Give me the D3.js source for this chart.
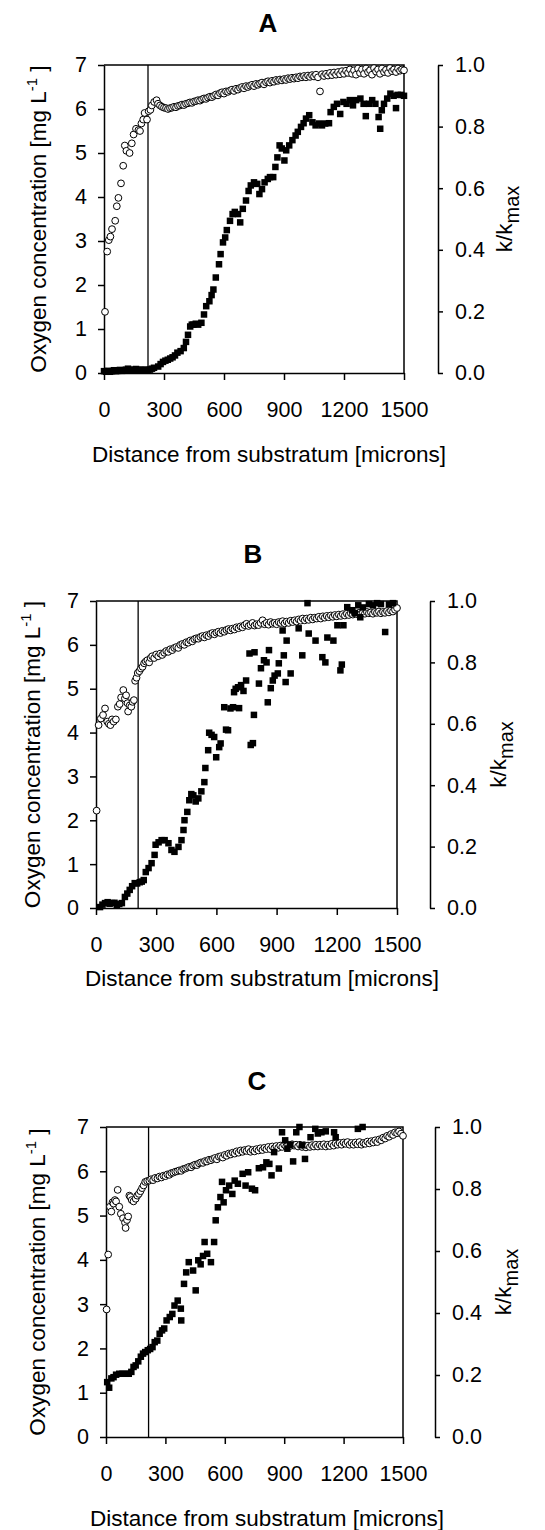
<!DOCTYPE html>
<html>
<head>
<meta charset="utf-8">
<script src="https://cdn.jsdelivr.net/npm/d3@7"></script>
<style>
  body { margin: 0; background: #fff; }
  text { font-family: "Liberation Sans", Arial, sans-serif; fill: #000; }
</style>
</head>
<body>
<div id="chart"></div>
<script>
/****************************************/
/*****  Data   *****/
/****************************************/
const panelNames = ["A", "B", "C"];
const xTicks = [0, 300, 600, 900, 1200, 1500];
const oxygenTicks = [0, 1, 2, 3, 4, 5, 6, 7];
const kTicks = [0, 0.2, 0.4, 0.6, 0.8, 1.0];
const xTitle = "Distance from substratum [microns]";

// vertical line marking the substratum boundary (microns)
const boundaries = [220, 210, 215];

// open circles: oxygen concentration [mg/L] vs distance [microns]
const oxygenA = [
  [5,1.39],[16,2.76],[24,3.02],[32,3.1],[40,3.27],[56,3.46],[64,3.79],[72,3.98],[85,4.31],[96,4.71],
  [104,5.17],[112,5.05],[128,5.0],[139,5.22],[148,5.42],[160,5.55],[172,5.52],[180,5.5],[187,5.67],[196,5.76],
  [203,5.91],[215,5.76],[223,5.95],[232,5.98],[239,6.08],[251,6.16],[263,6.2],
  [270,6.12],[280,6.08],[290,6.05],[300,6.03],[310,6.02],[320,6.0],[330,6.02],[340,6.03],[350,6.05],[360,6.04],
  [370,6.07],[380,6.08],[390,6.1],[400,6.09],[410,6.12],[420,6.13],[430,6.15],[440,6.14],[450,6.17],[460,6.18],
  [470,6.2],[480,6.19],[490,6.22],[500,6.24],[510,6.23],[520,6.26],[530,6.28],[540,6.27],[550,6.3],[560,6.33],
  [570,6.31],[580,6.36],[590,6.38],[600,6.35],[610,6.4],[620,6.39],[630,6.42],[640,6.44],[650,6.41],[660,6.46],
  [670,6.44],[680,6.48],[690,6.5],[700,6.47],[710,6.52],[720,6.5],[730,6.53],[740,6.55],[750,6.52],[760,6.57],
  [770,6.55],[780,6.58],[790,6.6],[800,6.56],[810,6.61],[820,6.63],[830,6.6],[840,6.64],[850,6.62],[860,6.66],
  [870,6.64],[880,6.67],[890,6.65],[900,6.68],[910,6.66],[920,6.7],[930,6.68],[940,6.71],[950,6.69],[960,6.72],
  [970,6.7],[980,6.74],[990,6.72],[1000,6.75],[1010,6.72],[1020,6.76],[1030,6.73],[1040,6.77],[1050,6.74],[1060,6.78],
  [1070,6.72],[1080,6.4],[1090,6.79],[1100,6.75],[1110,6.8],[1120,6.76],[1130,6.82],[1140,6.77],[1150,6.83],[1160,6.78],
  [1170,6.84],[1180,6.79],[1190,6.86],[1200,6.8],[1210,6.87],[1220,6.82],[1230,6.9],[1240,6.8],[1250,6.88],[1260,6.78],
  [1270,6.92],[1280,6.82],[1290,6.9],[1300,6.8],[1310,6.92],[1320,6.84],[1330,6.88],[1340,6.78],[1350,6.93],[1360,6.85],
  [1370,6.9],[1380,6.8],[1390,6.92],[1400,6.84],[1410,6.89],[1420,6.82],[1430,6.93],[1440,6.86],[1450,6.9],[1460,6.84],
  [1470,6.92],[1480,6.87],[1490,6.9],[1500,6.88]
];

const oxygenB = [
  [3,2.22],[13,4.17],[24,4.32],[35,4.4],[45,4.55],[56,4.25],[64,4.2],[72,4.17],[80,4.3],[88,4.25],
  [99,4.3],[109,4.59],[118,4.65],[125,4.8],[136,4.97],[144,4.78],[150,4.85],[157,4.67],[160,4.48],[168,4.62],
  [176,4.59],[182,4.7],[189,4.74],[195,5.18],[202,5.25],[208,5.36],[216,5.4],[224,5.46],[232,5.5],[240,5.58],
  [248,5.62],[256,5.65],[265,5.6],[272,5.7],[280,5.74],[290,5.7],[300,5.78],[310,5.74],[320,5.8],[330,5.77],
  [340,5.82],[350,5.86],[360,5.84],[370,5.9],[380,5.88],[390,5.93],[400,5.95],[410,5.93],[420,6.0],[430,6.02],
  [440,6.0],[450,6.06],[460,6.05],[470,6.1],[480,6.08],[490,6.13],[500,6.15],[510,6.14],[520,6.18],[530,6.2],
  [540,6.17],[550,6.22],[560,6.2],[570,6.25],[580,6.27],[590,6.24],[600,6.28],[610,6.3],[620,6.27],[630,6.32],
  [640,6.3],[650,6.34],[660,6.36],[670,6.33],[680,6.37],[690,6.35],[700,6.4],[710,6.38],[720,6.42],[730,6.4],
  [740,6.45],[750,6.48],[760,6.43],[770,6.46],[780,6.5],[790,6.44],[800,6.47],[810,6.45],[820,6.5],[830,6.56],
  [840,6.47],[850,6.5],[860,6.46],[870,6.52],[880,6.48],[890,6.5],[900,6.47],[910,6.52],[920,6.5],[930,6.54],
  [940,6.49],[950,6.53],[960,6.5],[970,6.55],[980,6.52],[990,6.56],[1000,6.53],[1010,6.58],[1020,6.55],[1030,6.6],
  [1040,6.56],[1050,6.6],[1060,6.57],[1070,6.62],[1080,6.58],[1090,6.62],[1100,6.6],[1110,6.64],[1120,6.6],[1130,6.65],
  [1140,6.62],[1150,6.66],[1160,6.63],[1170,6.67],[1180,6.64],[1190,6.68],[1200,6.65],[1210,6.69],[1220,6.66],[1230,6.7],
  [1240,6.67],[1250,6.71],[1260,6.68],[1270,6.72],[1280,6.69],[1290,6.72],[1300,6.7],[1310,6.73],[1320,6.7],[1330,6.74],
  [1340,6.71],[1350,6.75],[1360,6.72],[1370,6.74],[1380,6.71],[1390,6.75],[1400,6.73],[1410,6.76],[1420,6.72],[1430,6.75],
  [1440,6.73],[1450,6.77],[1460,6.74],[1470,6.78],[1480,6.76],[1490,6.8],[1500,6.84]
];

const oxygenC = [
  [3,2.88],[11,4.12],[20,5.2],[27,5.09],[33,5.3],[38,5.27],[45,5.35],[51,5.32],[59,5.58],[67,5.2],
  [75,5.04],[86,4.94],[96,4.84],[99,4.72],[106,4.9],[112,4.98],[118,5.45],[123,5.42],[130,5.35],[139,5.32],
  [150,5.38],[158,5.45],[166,5.49],[174,5.55],[182,5.62],[190,5.68],[198,5.76],[208,5.78],[219,5.79],[228,5.82],
  [238,5.8],[248,5.85],[260,5.84],[270,5.88],[280,5.86],[290,5.9],[300,5.89],[310,5.93],[320,5.92],[330,5.96],
  [340,5.97],[350,5.99],[360,6.0],[370,6.02],[380,6.01],[390,6.05],[400,6.06],[410,6.08],[420,6.1],[430,6.09],
  [440,6.13],[450,6.15],[460,6.14],[470,6.18],[480,6.2],[490,6.19],[500,6.23],[510,6.22],[520,6.26],[530,6.25],
  [540,6.28],[550,6.3],[560,6.27],[570,6.33],[580,6.34],[590,6.31],[600,6.37],[610,6.35],[620,6.4],[630,6.38],
  [640,6.42],[650,6.4],[660,6.45],[670,6.42],[680,6.47],[690,6.44],[700,6.48],[710,6.46],[720,6.5],[730,6.44],
  [740,6.48],[750,6.45],[760,6.5],[770,6.47],[780,6.52],[790,6.48],[800,6.53],[810,6.5],[820,6.55],[830,6.5],
  [840,6.56],[850,6.52],[860,6.57],[870,6.53],[880,6.58],[890,6.55],[900,6.6],[910,6.56],[920,6.6],[930,6.57],
  [940,6.61],[950,6.58],[960,6.6],[970,6.56],[980,6.6],[990,6.55],[1000,6.59],[1010,6.54],[1020,6.58],[1030,6.55],
  [1040,6.59],[1050,6.56],[1060,6.6],[1070,6.56],[1080,6.6],[1090,6.57],[1100,6.61],[1110,6.56],[1120,6.6],[1130,6.57],
  [1140,6.62],[1150,6.58],[1160,6.63],[1170,6.6],[1180,6.64],[1190,6.6],[1200,6.65],[1210,6.62],[1220,6.66],[1230,6.6],
  [1240,6.64],[1250,6.6],[1260,6.65],[1270,6.61],[1280,6.66],[1290,6.6],[1300,6.64],[1310,6.62],[1320,6.67],[1330,6.63],
  [1340,6.68],[1350,6.65],[1360,6.7],[1370,6.66],[1380,6.72],[1390,6.7],[1400,6.76],[1410,6.74],[1420,6.8],[1430,6.78],
  [1440,6.84],[1450,6.82],[1460,6.88],[1470,6.86],[1480,6.9],[1490,6.85],[1500,6.8]
];

// filled squares: k/kmax vs distance [microns]
const kA = [
  [0,.006],[10,.004],[20,.007],[30,.004],[40,.006],[50,.009],[60,.006],[70,.007],[80,.010],[90,.007],
  [100,.009],[110,.011],[120,.014],[130,.010],[140,.009],[150,.011],[160,.013],[170,.010],[180,.011],[190,.009],
  [200,.010],[210,.011],[220,.009],[230,.011],[240,.014],[250,.017],[271,.021],[283,.029],[295,.036],[307,.040],
  [319,.043],[331,.047],[343,.051],[355,.057],[367,.066],[383,.071],[399,.081],[410,.101],[420,.124],[431,.151],
  [439,.157],[447,.157],[459,.160],[471,.157],[487,.163],[500,.190],[511,.217],[527,.233],[538,.253],[547,.271],
  [559,.310],[575,.353],[583,.386],[595,.424],[606,.440],[614,.464],[630,.494],[643,.516],[654,.523],[670,.516],
  [681,.489],[694,.533],[710,.560],[723,.591],[734,.609],[750,.619],[766,.614],[777,.581],[790,.597],[803,.619],
  [819,.630],[830,.636],[846,.636],[857,.669],[867,.700],[878,.739],[889,.729],[902,.690],[911,.723],[926,.739],
  [942,.756],[958,.771],[969,.783],[985,.799],[998,.811],[1010,.826],[1026,.837],[1042,.814],[1058,.804],[1074,.810],
  [1090,.804],[1106,.810],[1125,.811],[1133,.847],[1149,.864],[1165,.874],[1181,.841],[1197,.880],[1213,.874],[1229,.886],
  [1245,.869],[1261,.886],[1282,.891],[1298,.874],[1309,.834],[1325,.874],[1341,.886],[1357,.874],[1373,.831],[1381,.793],
  [1389,.853],[1400,.874],[1416,.891],[1432,.907],[1448,.900],[1460,.860],[1468,.903],[1485,.903],[1500,.900]
];

const kB = [
  [20,.003],[32,.011],[45,.016],[58,.019],[68,.014],[79,.016],[92,.017],[104,.010],[116,.013],[129,.016],
  [144,.036],[156,.047],[168,.059],[180,.071],[193,.081],[205,.080],[218,.084],[228,.086],[238,.091],[248,.117],
  [262,.130],[277,.146],[292,.173],[297,.206],[312,.214],[327,.221],[342,.221],[361,.211],[376,.189],[391,.183],
  [411,.199],[426,.221],[436,.254],[441,.286],[455,.313],[465,.351],[475,.371],[485,.367],[497,.347],[510,.357],
  [525,.380],[540,.410],[545,.456],[559,.514],[564,.571],[576,.564],[589,.557],[599,.491],[614,.524],[621,.536],
  [639,.654],[648,.581],[658,.579],[670,.650],[683,.654],[688,.703],[696,.714],[708,.719],[713,.651],[723,.726],
  [735,.707],[748,.741],[765,.829],[771,.531],[782,.537],[787,.629],[790,.833],[812,.731],[822,.781],[837,.807],
  [850,.800],[856,.670],[862,.840],[871,.716],[881,.741],[890,.757],[906,.764],[911,.797],[930,.904],[936,.823],
  [945,.736],[950,.871],[970,.764],[1010,.911],[1028,.823],[1054,.993],[1060,.894],[1094,.871],[1128,.817],[1143,.800],
  [1153,.881],[1183,.871],[1203,.921],[1218,.774],[1225,.793],[1233,.921],[1252,.980],[1277,.970],[1290,.960],[1307,.986],
  [1317,.947],[1330,.979],[1360,.990],[1380,.986],[1401,.993],[1420,.990],[1441,.899],[1460,.989],[1480,.993]
];

const kC = [
  [6,.177],[16,.159],[27,.189],[38,.193],[51,.201],[67,.204],[83,.204],[99,.204],[115,.204],[128,.210],
  [139,.226],[150,.231],[163,.244],[176,.259],[187,.269],[198,.274],[211,.280],[223,.284],[235,.290],[246,.306],
  [259,.311],[271,.333],[283,.344],[294,.350],[306,.376],[322,.387],[335,.397],[346,.424],[362,.440],[378,.414],
  [380,.376],[394,.494],[405,.531],[418,.564],[440,.537],[453,.473],[466,.570],[478,.557],[490,.584],[498,.629],
  [511,.591],[530,.564],[546,.629],[554,.699],[565,.741],[578,.774],[586,.823],[594,.757],[606,.796],[622,.811],
  [638,.784],[650,.827],[666,.817],[690,.849],[705,.811],[718,.854],[737,.801],[753,.796],[772,.867],[793,.870],
  [810,.886],[825,.881],[836,.844],[849,.919],[873,.866],[889,.983],[905,.957],[916,.930],[930,.943],[945,.889],
  [961,.983],[977,1.0],[990,.941],[1005,.897],[1033,.967],[1057,.994],[1070,.979],[1088,.983],[1110,.986],[1152,.983],
  [1160,.967],[1272,.994],[1296,1.0]
];

const oxygenSeries = [oxygenA, oxygenB, oxygenC];
const kSeries = [kA, kB, kC];

/****************************************/
/*****  Layout   *****/
/****************************************/
const width = 545;
const height = 1530;
const tickFont = 21.5;
const titleFont = 22.5;

// pixel frame of each panel
const layout = [
  { left: 104, right: 404, top: 65, bottom: 373, rightAxis: 438, titleX: 268, titleY: 32, xTitleX: 269, xTitleY: 462, yLabelX: 46, kLabelX: 512 },
  { left: 96, right: 397, top: 601, bottom: 908, rightAxis: 430, titleX: 253, titleY: 563, xTitleX: 262, xTitleY: 986, yLabelX: 40, kLabelX: 506 },
  { left: 106, right: 403, top: 1127, bottom: 1437, rightAxis: 435, titleX: 257, titleY: 1090, xTitleX: 267, xTitleY: 1526, yLabelX: 45, kLabelX: 511 }
];

const svg = d3.select('#chart')
  .append('svg')
    .attr('width', width)
    .attr('height', height);

panelNames.forEach((name, i) => {
  const p = layout[i];
  const g = svg.append('g').attr('class', 'panel panel-' + name);

  const x = d3.scaleLinear().domain([0, 1500]).range([p.left, p.right]);
  const yOxy = d3.scaleLinear().domain([0, 7]).range([p.bottom, p.top]);
  const yK = d3.scaleLinear().domain([0, 1]).range([p.bottom, p.top]);

  // panel letter
  g.append('text')
    .attr('x', p.titleX)
    .attr('y', p.titleY)
    .attr('text-anchor', 'middle')
    .attr('font-size', 26)
    .attr('font-weight', 'bold')
    .text(name);

  // top and right border of the plot area
  g.append('path')
    .attr('d', `M${x(0)},${yOxy(7)}H${x(1500)}V${yOxy(0)}`)
    .attr('fill', 'none')
    .attr('stroke', '#000')
    .attr('stroke-width', 1.5);

  // boundary line
  g.append('line')
    .attr('x1', x(boundaries[i]))
    .attr('x2', x(boundaries[i]))
    .attr('y1', yOxy(0))
    .attr('y2', yOxy(7))
    .attr('stroke', '#000')
    .attr('stroke-width', 1.3);

  // axes
  const xAxis = g.append('g')
    .attr('transform', `translate(0,${p.bottom})`)
    .call(d3.axisBottom(x).tickValues(xTicks).tickFormat(d3.format('d'))
      .tickSize(7).tickSizeOuter(0).tickPadding(21.5));

  const yAxis = g.append('g')
    .attr('transform', `translate(${p.left},0)`)
    .call(d3.axisLeft(yOxy).tickValues(oxygenTicks).tickFormat(d3.format('d'))
      .tickSize(6).tickSizeOuter(0).tickPadding(11));

  const kAxis = g.append('g')
    .attr('transform', `translate(${p.rightAxis},0)`)
    .call(d3.axisRight(yK).tickValues(kTicks).tickFormat(d3.format('.1f'))
      .tickSize(5).tickSizeOuter(0).tickPadding(12));

  [xAxis, yAxis, kAxis].forEach(a => {
    a.attr('font-size', tickFont).attr('font-family', '"Liberation Sans", Arial, sans-serif');
    a.selectAll('path, line').attr('stroke', '#000').attr('stroke-width', 1.5);
    a.selectAll('text').attr('fill', '#000');
  });

  // oxygen: open circles
  g.append('g')
    .attr('class', 'oxygen')
    .selectAll('circle')
    .data(oxygenSeries[i])
    .join('circle')
      .attr('cx', d => x(d[0]))
      .attr('cy', d => yOxy(d[1]))
      .attr('r', 3.4)
      .attr('fill', '#fff')
      .attr('stroke', '#000')
      .attr('stroke-width', 1);

  // k/kmax: filled squares
  const s = 6.5;
  g.append('g')
    .attr('class', 'kratio')
    .selectAll('rect')
    .data(kSeries[i])
    .join('rect')
      .attr('x', d => x(d[0]) - s / 2)
      .attr('y', d => yK(d[1]) - s / 2)
      .attr('width', s)
      .attr('height', s)
      .attr('fill', '#000');

  // axis titles
  g.append('text')
    .attr('x', p.xTitleX)
    .attr('y', p.xTitleY)
    .attr('text-anchor', 'middle')
    .attr('font-size', titleFont)
    .text(xTitle);

  const yLabel = g.append('text')
    .attr('transform', `translate(${p.yLabelX},${(p.top + p.bottom) / 2}) rotate(-90)`)
    .attr('text-anchor', 'middle')
    .attr('font-size', titleFont);
  yLabel.append('tspan').text('Oxygen concentration [mg L');
  yLabel.append('tspan').attr('dy', -9).attr('font-size', 15).text('-1');
  yLabel.append('tspan').attr('dy', 9).text(' ]');

  const kLabel = g.append('text')
    .attr('transform', `translate(${p.kLabelX},${(p.top + p.bottom) / 2}) rotate(-90)`)
    .attr('text-anchor', 'middle')
    .attr('font-size', titleFont);
  kLabel.append('tspan').text('k/k');
  kLabel.append('tspan').attr('dy', 7).attr('font-size', 20).text('max');
});
</script>
</body>
</html>
